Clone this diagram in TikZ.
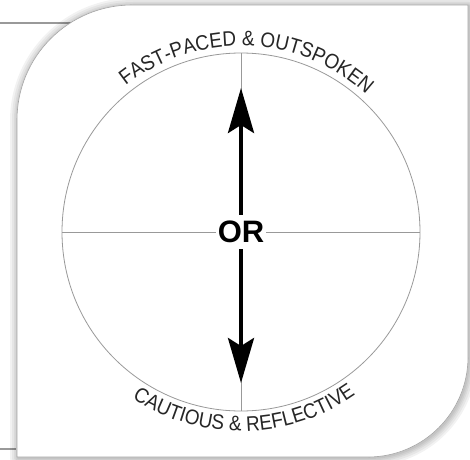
\documentclass[tikz,border=0pt]{standalone}
\usepackage{fontspec}
\setmainfont{Liberation Sans}
\newfontfamily\arcfont[FakeStretch=0.9]{Liberation Sans}
\usetikzlibrary{arrows.meta,decorations.text,calc}
\definecolor{rim}{gray}{0.6}
\def\cardpath{(17,2) -- (17,339) arc[start angle=180,end angle=90,radius=115] -- (468,454) -- (468,102) arc[start angle=0,end angle=-90,radius=100] -- cycle}
\tikzset{
  thin line/.style={draw=rim,line width=0.8pt},
  big arrow/.style={line width=4pt,-{Stealth[length=45pt,width=26pt,inset=8pt]}},
  arc text/.style={decorate,decoration={text along path,text align=center,
    text={|\arcfont\fontsize{21}{21}\selectfont\color{black!85}|#1}}}
}
\begin{document}
\begin{tikzpicture}[x=1pt,y=1pt]
\useasboundingbox (0,0) rectangle (470,459);
\coordinate (C) at (241,227);
\coordinate (T) at (241,371); \coordinate (B) at (241,76);
% lines behind the card
\draw[rim,line width=1.4pt] (0,436) -- (120,436);
\draw[rim,line width=1.4pt] (0,10) -- (16,10);
% card with soft shadow
\foreach \w in {16,12,8,5,2} \draw[line width=\w pt,black,opacity=.05,line join=round,shift={(1,-1)}] \cardpath;
\draw[fill=white,draw=black!35,line width=0.6pt] \cardpath;
% dial
\draw[thin line] (C) circle[radius=179];
\draw[thin line] ($(C)+(-179,0)$) -- ($(C)+(179,0)$);
\draw[thin line] (241,406) -- (241,48);
\node[fill=white,inner xsep=2pt,inner ysep=6pt,font=\fontsize{31}{31}\selectfont\bfseries] (or) at (C) {OR};
\draw[big arrow] (or.north) -- (T);
\draw[big arrow] (or.south) -- (B);
% labels round the dial
\path[arc text={FAST-PACED {\&} OUTSPOKEN}] (C) ++(150:186) arc[start angle=150,end angle=26,radius=186];
\path[arc text={CAUTIOUS {\&} REFLECTIVE}] (C) ++(212:199) arc[start angle=212,end angle=330,radius=199];
\end{tikzpicture}
\end{document}
